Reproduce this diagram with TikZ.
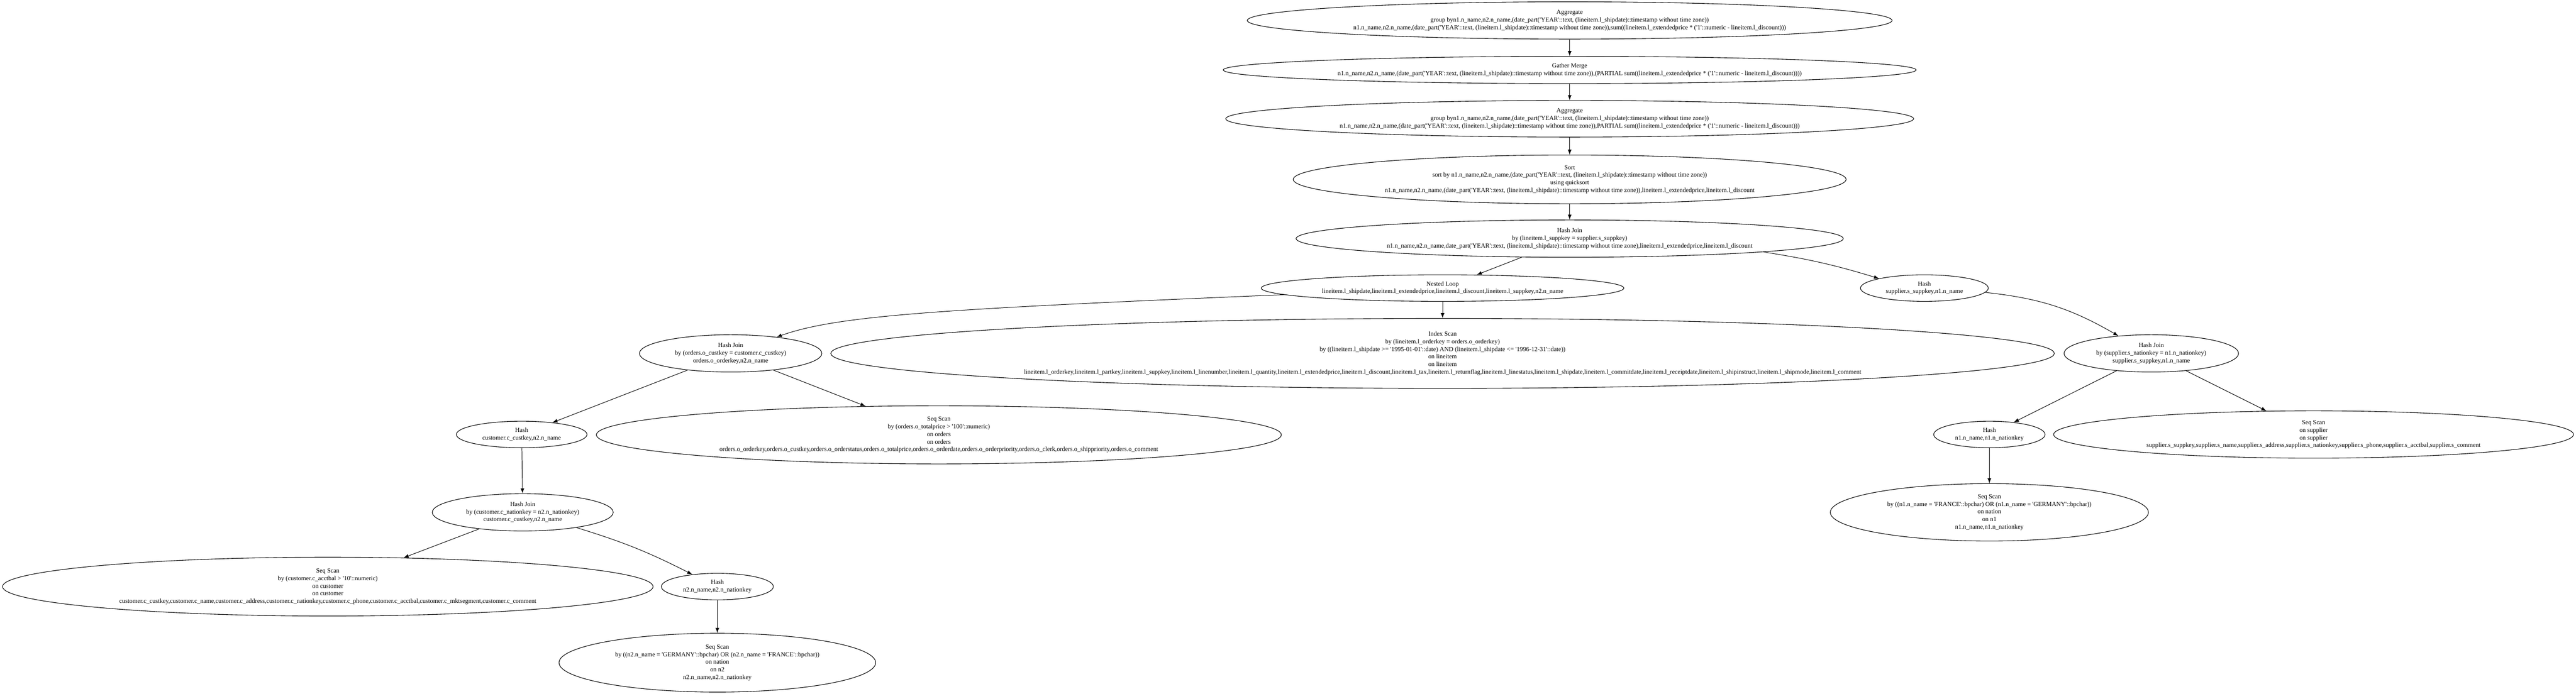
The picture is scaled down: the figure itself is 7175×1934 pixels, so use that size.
\documentclass[tikz,border=0pt]{standalone}
\usepackage{fontspec}
\setmainfont{Liberation Serif}[Ligatures=TeXOff]
\usepackage{tikz}
\usetikzlibrary{arrows,shapes}
\tikzstyle{plan}=[draw,ellipse,line width=0.45pt,inner sep=0pt,align=center,font=\fontsize{5}{6}\selectfont]
\tikzstyle{flow}=[->,>=latex,line width=0.4pt]
\newcommand\yearexpr{date\_part('YEAR'::text, (lineitem.l\_shipdate)::timestamp without time zone)}
\newcommand\grpnames{n1.n\_name,n2.n\_name,(\yearexpr)}

\begin{document}
\begin{tikzpicture}[x=0.1mm,y=0.1mm]
\useasboundingbox (0,0) rectangle (7175,-1934);

% top of the plan
\node [plan,minimum width=179.6mm,minimum height=10.4mm] (agg) at (4372,-57)
  {Aggregate\\group by\grpnames\\\grpnames,sum((lineitem.l\_extendedprice * ('1'::numeric - lineitem.l\_discount)))};
\node [plan,minimum width=193mm,minimum height=7.6mm] (gather) at (4372,-195)
  {Gather Merge\\\grpnames,(PARTIAL sum((lineitem.l\_extendedprice * ('1'::numeric - lineitem.l\_discount))))};
\node [plan,minimum width=191.6mm,minimum height=10.2mm] (pagg) at (4372,-331)
  {Aggregate\\group by\grpnames\\\grpnames,PARTIAL sum((lineitem.l\_extendedprice * ('1'::numeric - lineitem.l\_discount)))};
\node [plan,minimum width=154mm,minimum height=13.6mm] (sort) at (4372,-500)
  {Sort\\sort by \grpnames\\using quicksort\\\grpnames,lineitem.l\_extendedprice,lineitem.l\_discount};
\node [plan,minimum width=152.4mm,minimum height=10.4mm] (hjsupp) at (4372,-665)
  {Hash Join\\by (lineitem.l\_suppkey = supplier.s\_suppkey)\\n1.n\_name,n2.n\_name,\yearexpr,lineitem.l\_extendedprice,lineitem.l\_discount};

% lineitem side
\node [plan,minimum width=101mm,minimum height=7.4mm] (loop) at (4018,-803)
  {Nested Loop\\lineitem.l\_shipdate,lineitem.l\_extendedprice,lineitem.l\_discount,lineitem.l\_suppkey,n2.n\_name};
\node [plan,minimum width=340.8mm,minimum height=19.5mm] (idx) at (4018,-985)
  {Index Scan\\by (lineitem.l\_orderkey = orders.o\_orderkey)\\by ((lineitem.l\_shipdate >= '1995-01-01'::date) AND (lineitem.l\_shipdate <= '1996-12-31'::date))\\on lineitem\\on lineitem\\lineitem.l\_orderkey,lineitem.l\_partkey,lineitem.l\_suppkey,lineitem.l\_linenumber,lineitem.l\_quantity,lineitem.l\_extendedprice,lineitem.l\_discount,lineitem.l\_tax,lineitem.l\_returnflag,lineitem.l\_linestatus,lineitem.l\_shipdate,lineitem.l\_commitdate,lineitem.l\_receiptdate,lineitem.l\_shipinstruct,lineitem.l\_shipmode,lineitem.l\_comment};

% orders and customer side
\node [plan,minimum width=50.8mm,minimum height=10.4mm] (hjord) at (2035,-985)
  {Hash Join\\by (orders.o\_custkey = customer.c\_custkey)\\orders.o\_orderkey,n2.n\_name};
\node [plan,minimum width=36.4mm,minimum height=7.4mm] (hcust) at (1453,-1211)
  {Hash\\customer.c\_custkey,n2.n\_name};
\node [plan,minimum width=190.8mm,minimum height=16.2mm] (scanord) at (2615,-1212)
  {Seq Scan\\by (orders.o\_totalprice > '100'::numeric)\\on orders\\on orders\\orders.o\_orderkey,orders.o\_custkey,orders.o\_orderstatus,orders.o\_totalprice,orders.o\_orderdate,orders.o\_orderpriority,orders.o\_clerk,orders.o\_shippriority,orders.o\_comment};
\node [plan,minimum width=50.4mm,minimum height=10.4mm] (hjcust) at (1456,-1428)
  {Hash Join\\by (customer.c\_nationkey = n2.n\_nationkey)\\customer.c\_custkey,n2.n\_name};
\node [plan,minimum width=181.2mm,minimum height=16.4mm] (scancust) at (913,-1635)
  {Seq Scan\\by (customer.c\_acctbal > '10'::numeric)\\on customer\\on customer\\customer.c\_custkey,customer.c\_name,customer.c\_address,customer.c\_nationkey,customer.c\_phone,customer.c\_acctbal,customer.c\_mktsegment,customer.c\_comment};
\node [plan,minimum width=31.2mm,minimum height=7.4mm] (hntwo) at (1998,-1635)
  {Hash\\n2.n\_name,n2.n\_nationkey};
\node [plan,minimum width=88.2mm,minimum height=16.4mm] (scanntwo) at (1998,-1847)
  {Seq Scan\\by ((n2.n\_name = 'GERMANY'::bpchar) OR (n2.n\_name = 'FRANCE'::bpchar))\\on nation\\on n2\\n2.n\_name,n2.n\_nationkey};

% supplier side
\node [plan,minimum width=35.6mm,minimum height=7.4mm] (hsupp) at (5360,-803)
  {Hash\\supplier.s\_suppkey,n1.n\_name};
\node [plan,minimum width=48.6mm,minimum height=10.4mm] (hjnat) at (5992,-985)
  {Hash Join\\by (supplier.s\_nationkey = n1.n\_nationkey)\\supplier.s\_suppkey,n1.n\_name};
\node [plan,minimum width=31mm,minimum height=7.4mm] (hnone) at (5541,-1211)
  {Hash\\n1.n\_name,n1.n\_nationkey};
\node [plan,minimum width=144.8mm,minimum height=13.2mm] (scansupp) at (6444,-1211)
  {Seq Scan\\on supplier\\on supplier\\supplier.s\_suppkey,supplier.s\_name,supplier.s\_address,supplier.s\_nationkey,supplier.s\_phone,supplier.s\_acctbal,supplier.s\_comment};
\node [plan,minimum width=88.6mm,minimum height=16mm] (scannone) at (5541,-1428)
  {Seq Scan\\by ((n1.n\_name = 'FRANCE'::bpchar) OR (n1.n\_name = 'GERMANY'::bpchar))\\on nation\\on n1\\n1.n\_name,n1.n\_nationkey};

\draw[flow] (agg) -- (gather);
\draw[flow] (gather) -- (pagg);
\draw[flow] (pagg) -- (sort);
\draw[flow] (sort) -- (hjsupp);
\draw[flow] (hjsupp) -- (loop);
\draw[flow] (hjsupp) to[bend left=4] (hsupp);
\draw[flow] (loop) .. controls (2600,-862) and (2330,-880) .. (hjord);
\draw[flow] (loop) -- (idx);
\draw[flow] (hjord) -- (hcust);
\draw[flow] (hjord) -- (scanord);
\draw[flow] (hcust) -- (hjcust);
\draw[flow] (hjcust) -- (scancust);
\draw[flow] (hjcust) to[bend left=5] (hntwo);
\draw[flow] (hntwo) -- (scanntwo);
\draw[flow] (hsupp) to[bend left=12] (hjnat);
\draw[flow] (hjnat) -- (hnone);
\draw[flow] (hjnat) -- (scansupp);
\draw[flow] (hnone) -- (scannone);
\end{tikzpicture}
\end{document}
